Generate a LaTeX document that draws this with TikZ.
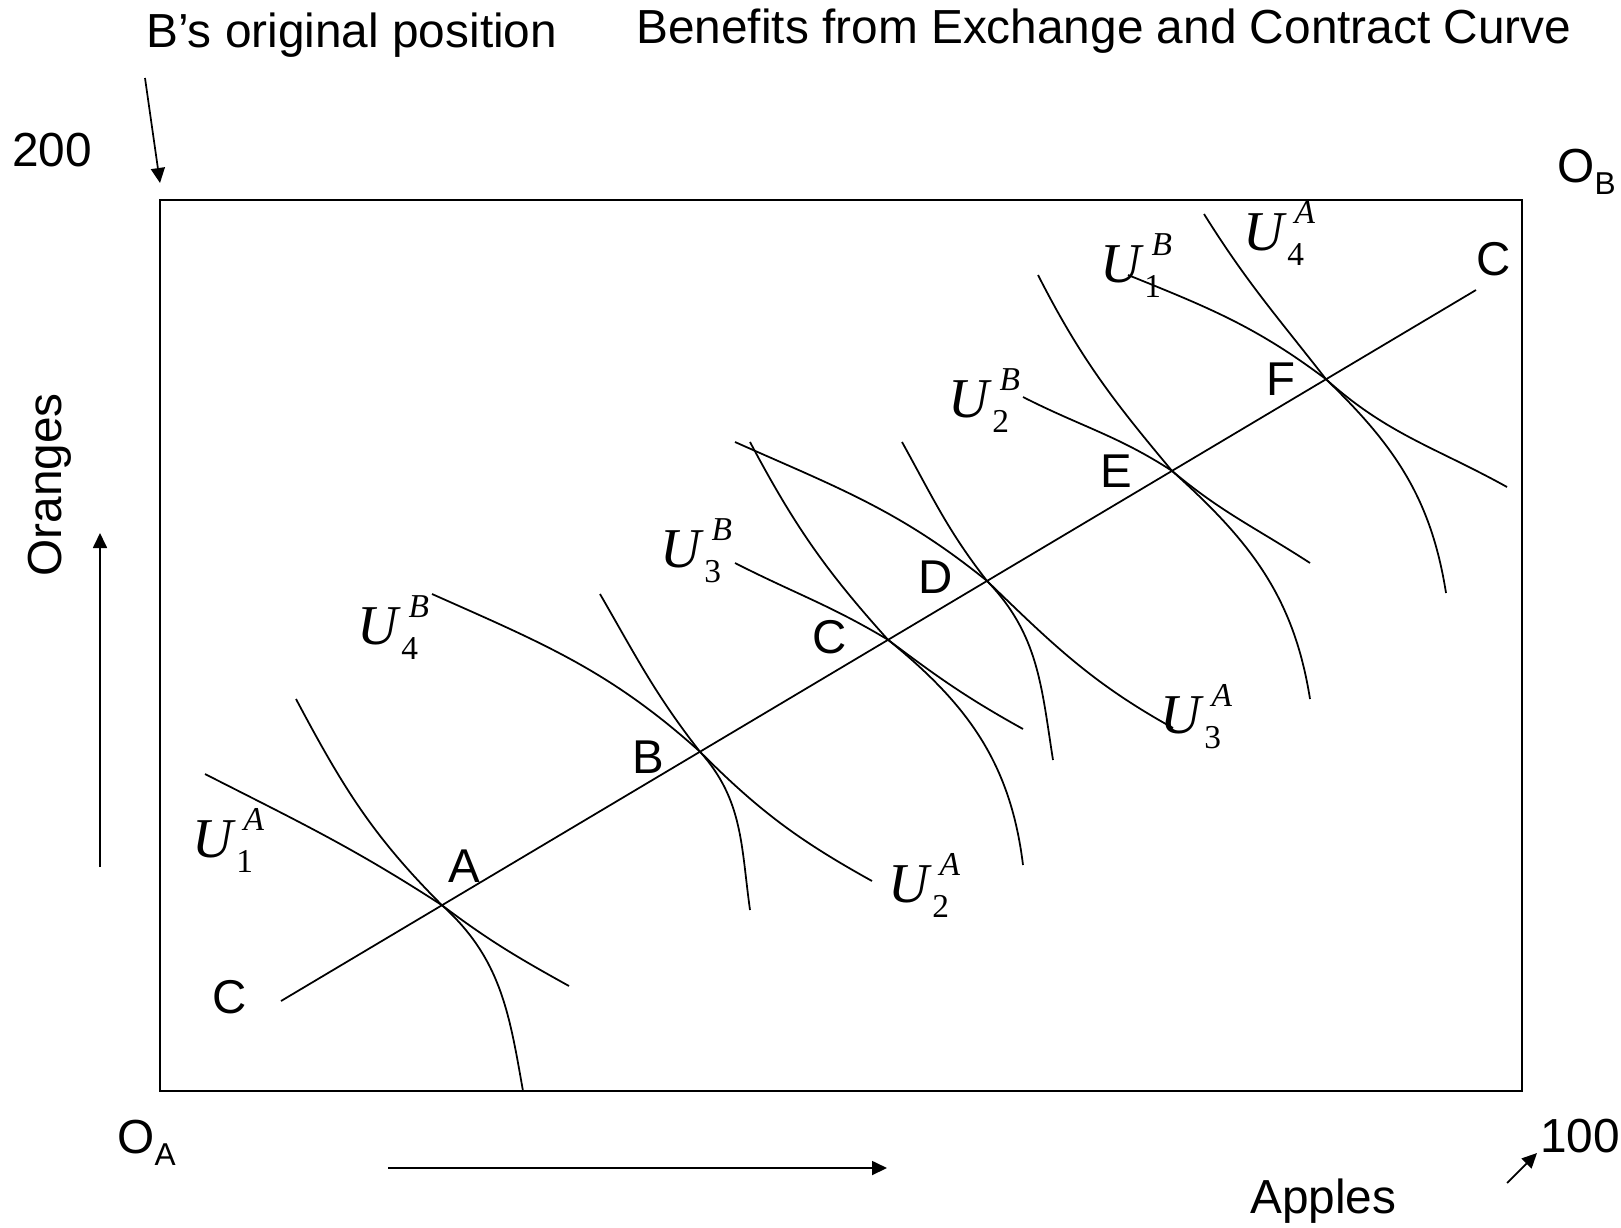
\documentclass[tikz,border=0pt]{standalone}
\usepackage{fontspec}
\setmainfont{Liberation Sans}
\newfontfamily\timesfont{Liberation Serif}
\usetikzlibrary{arrows.meta,calc}
% utility level label: U with superscript person and subscript level
\newcommand{\ulab}[2]{{\timesfont\itshape\fontsize{32}{32}\selectfont U}%
  \rlap{\hspace{6pt}\raisebox{15pt}{\timesfont\itshape\fontsize{19}{19}\selectfont #1}}%
  \hspace{2pt}\raisebox{-9pt}{\timesfont\fontsize{19}{19}\selectfont #2}}
\newcommand{\orig}[1]{O\raisebox{-7pt}{\fontsize{18}{18}\selectfont #1}}
\tikzset{
  boxline/.style={line width=1.1pt},
  ccline/.style={line width=1pt},
  icurve/.style={line width=1pt},
  axarrow/.style={-{Triangle[length=0.3cm,width=0.28cm]}, line width=1pt},
  txt/.style={font=\fontsize{27.2}{27.2}\selectfont, inner sep=0pt, anchor=base west},
  ptlabel/.style={font=\fontsize{27}{27}\selectfont, inner sep=0pt, anchor=base west},
  ulabel/.style={inner sep=0pt, anchor=base west},
}

\begin{document}
\begin{tikzpicture}[x=0.02cm, y=-0.02cm]
  \useasboundingbox (0,0) rectangle (1621,1227);

  % Edgeworth box
  \coordinate (oa) at (160,1091);
  \coordinate (ob) at (1522,200);
  \draw[boxline] (oa) rectangle (ob);

  % titles and axis texts
  \node[txt] (borig) at (146,47) {B’s original position};
  \node[txt] (title) at (636,43) {Benefits from Exchange and Contract Curve};
  \node[txt] (n200) at (12,166) {200};
  \node[txt] (n100) at (1540,1152) {100};
  \node[txt] (lOB) at (1557,182) {\orig{B}};
  \node[txt] (lOA) at (117,1153) {\orig{A}};
  \node[txt] (apples) at (1250,1213) {Apples};
  \node[font=\fontsize{27.2}{27.2}\selectfont, inner sep=0pt, rotate=90] (oranges) at (50,485) {Oranges};

  \coordinate (bTail) at (145,78);
  \coordinate (bTip) at (160,183);
  \draw[axarrow] (bTail) -- (bTip);
  \coordinate (hTail) at (1507,1183);
  \coordinate (hTip) at (1537,1153);
  \draw[axarrow] (hTail) -- (hTip);
  \coordinate (xTail) at (388,1168);
  \coordinate (xTip) at (887,1168);
  \draw[axarrow] (xTail) -- (xTip);
  \coordinate (yTail) at (100,867);
  \coordinate (yTip) at (100,533);
  \draw[axarrow] (yTail) -- (yTip);

  % contract curve and points of tangency
  \coordinate (cc0) at (281,1001);
  \coordinate (cc1) at (1476,290);
  \draw[ccline] (cc0) -- (cc1);
  \coordinate (pA) at ($(cc0)!0.1347!(cc1)$);
  \coordinate (pB) at ($(cc0)!0.3506!(cc1)$);
  \coordinate (pC) at ($(cc0)!0.5080!(cc1)$);
  \coordinate (pD) at ($(cc0)!0.5908!(cc1)$);
  \coordinate (pE) at ($(cc0)!0.7456!(cc1)$);
  \coordinate (pF) at ($(cc0)!0.8745!(cc1)$);

  % indifference curves of A (steep, then flat)
  \draw[icurve] (296,699) to[out=-62, in=135] (pA) to[out=-37, in=151] (569,986);
  \draw[icurve] (600,594) to[out=-60, in=128] (pB) to[out=-45, in=151] (872,881);
  \draw[icurve] (750,442) to[out=-62, in=132] (pC) to[out=-37, in=151] (1023,729);
  \draw[icurve] (902,442) to[out=-61, in=128] (pD) to[out=-44, in=151] (1173,728);
  \draw[icurve] (1038,275) to[out=-63, in=130] (pE) to[out=-40, in=147] (1310,563);
  \draw[icurve] (1204,214) to[out=-58, in=128] (pF) to[out=-42, in=151] (1507,487);

  % indifference curves of B (flat, then steep)
  \draw[icurve] (205,774) to[out=-27, in=147] (pA) to[out=-42, in=100] (523,1091);
  \draw[icurve] (432,594) to[out=-24, in=138] (pB) to[out=-48, in=98] (750,910);
  \draw[icurve] (735,563) to[out=-27, in=149] (pC) to[out=-39, in=97] (1023,865);
  \draw[icurve] (735,442) to[out=-24, in=141] (pD) to[out=-46, in=99] (1053,760);
  \draw[icurve] (1023,397) to[out=-27, in=147] (pE) to[out=-42, in=99] (1310,699);
  \draw[icurve] (1128,275) to[out=-22, in=143] (pF) to[out=-44, in=99] (1446,593);

  % point labels
  \node[ptlabel] (lC0) at (212,1013) {C};
  \node[ptlabel] (lA) at (448,882) {A};
  \node[ptlabel] (lB) at (632,773) {B};
  \node[ptlabel] (lC) at (812,653) {C};
  \node[ptlabel] (lD) at (918,593) {D};
  \node[ptlabel] (lE) at (1100,487) {E};
  \node[ptlabel] (lF) at (1266,395) {F};
  \node[ptlabel] (lC1) at (1476,275) {C};

  % utility labels
  \node[ulabel] (uA1) at (192,857) {\ulab{A}{1}};
  \node[ulabel] (uA2) at (888,902) {\ulab{A}{2}};
  \node[ulabel] (uA3) at (1160,733) {\ulab{A}{3}};
  \node[ulabel] (uA4) at (1243,250) {\ulab{A}{4}};
  \node[ulabel] (uB1) at (1100,282) {\ulab{B}{1}};
  \node[ulabel] (uB2) at (948,417) {\ulab{B}{2}};
  \node[ulabel] (uB3) at (660,567) {\ulab{B}{3}};
  \node[ulabel] (uB4) at (357,644) {\ulab{B}{4}};
\end{tikzpicture}
\end{document}
